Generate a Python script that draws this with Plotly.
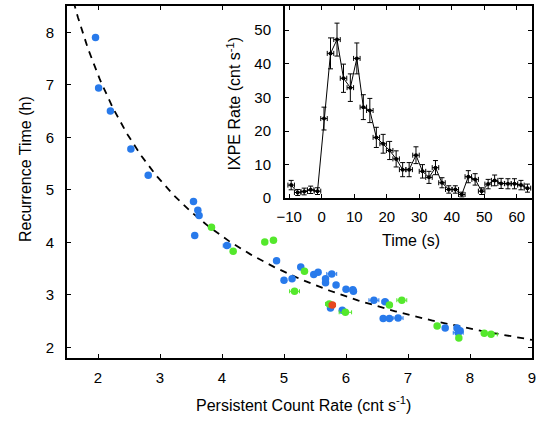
import plotly.graph_objects as go
import numpy as np

# ---- main scatter data ----
blue_x = [1.96, 2.01, 2.20, 2.53, 2.81, 3.54, 3.61, 3.63, 3.56, 4.08, 4.88, 5.00, 5.13, 5.27,
          5.48, 5.55, 5.77, 5.67, 5.67, 5.84, 6.00, 6.12, 6.11, 5.75, 5.76, 5.94, 6.45, 6.63,
          6.60, 6.70, 6.84, 7.60, 7.79, 7.84, 7.81]
blue_y = [7.90, 6.94, 6.50, 5.78, 5.28, 4.78, 4.61, 4.51, 4.13, 3.94, 3.65, 3.28, 3.31, 3.53,
          3.39, 3.43, 3.40, 3.31, 3.23, 3.19, 3.11, 3.07, 3.10, 2.75, 2.80, 2.71, 2.90, 2.87,
          2.55, 2.55, 2.56, 2.37, 2.37, 2.32, 2.28]
blue_xerr = [0, 0, 0, 0, 0, 0, 0, 0, 0, 0.06, 0, 0.04, 0, 0,
             0, 0, 0.08, 0, 0, 0, 0, 0, 0, 0, 0, 0, 0.08, 0.05,
             0, 0, 0.08, 0, 0, 0, 0.08]

green_x = [3.83, 4.18, 4.69, 4.83, 5.17, 5.33, 5.73, 5.99, 6.70, 6.90, 7.47, 7.82, 8.23, 8.34]
green_y = [4.29, 3.83, 4.01, 4.04, 3.07, 3.45, 2.83, 2.67, 2.81, 2.90, 2.41, 2.18, 2.27, 2.25]
green_xerr = [0, 0, 0, 0, 0.08, 0, 0.06, 0.10, 0, 0.08, 0, 0, 0, 0.10]

red_x = [5.78]
red_y = [2.81]
red_xerr = [0.05]

# power-law fit  T = A * R^-k
fit_A = 12.55
fit_k = 0.804

# ---- inset light curve ----
lc_t = [-9.4, -7.4, -5.4, -3.4, -1.3, 0.7, 2.7, 4.7, 6.7, 8.8, 10.8, 12.8, 14.8, 16.8, 18.9,
        20.9, 22.9, 24.9, 26.9, 29.0, 31.0, 33.0, 35.0, 37.0, 39.1, 41.1, 43.1, 45.1, 47.2,
        49.2, 51.2, 53.2, 55.2, 57.3, 59.3, 61.3, 63.3]
lc_rate = [3.9, 1.7, 2.0, 2.5, 2.1, 23.7, 43.1, 47.2, 35.7, 32.9, 41.6, 27.1, 26.1, 18.1, 16.2,
           14.2, 11.7, 8.5, 8.5, 12.8, 8.0, 6.2, 9.1, 4.6, 2.6, 2.6, 1.1, 6.4, 5.6,
           2.1, 4.2, 5.3, 4.4, 4.3, 4.3, 3.9, 3.0]
lc_err = [1.4, 0.9, 1.0, 1.1, 1.0, 3.4, 4.6, 4.9, 4.2, 4.1, 4.6, 3.7, 3.6, 3.0, 2.8,
          2.7, 2.4, 2.1, 2.1, 2.5, 2.0, 1.8, 2.1, 1.5, 1.1, 1.1, 0.7, 1.8, 1.7,
          1.0, 1.4, 1.6, 1.5, 1.5, 1.5, 1.4, 1.2]
lc_terr = [1.0] * len(lc_t)

BLUE = "rgb(40,122,235)"
GREEN = "rgb(84,232,44)"
RED = "rgb(232,72,30)"
FONT = "Liberation Sans, Arial, sans-serif"

W, H = 549, 421
ML, MR, MT, MB = 67, 17, 4, 63
PW, PH = W - ML - MR, H - MT - MB


def px(x):
    return (x - ML) / PW


def py(y):
    return (H - MB - y) / PH


fig = go.Figure()

xf = np.linspace(1.5, 9.0, 300)
fig.add_trace(go.Scatter(x=xf, y=fit_A * xf ** (-fit_k), mode="lines",
                         line=dict(color="black", width=1.8, dash="7px,6px"),
                         hoverinfo="skip", showlegend=False))

for xs, ys, xe, col in [(blue_x, blue_y, blue_xerr, BLUE),
                        (green_x, green_y, green_xerr, GREEN),
                        (red_x, red_y, red_xerr, RED)]:
    fig.add_trace(go.Scatter(x=xs, y=ys, mode="markers",
                             marker=dict(color=col, size=7.5, line=dict(width=0)),
                             error_x=dict(type="data", array=xe, color=col, thickness=1, width=2),
                             showlegend=False))

fig.add_trace(go.Scatter(x=lc_t, y=lc_rate, mode="lines+markers", xaxis="x2", yaxis="y2",
                         line=dict(color="black", width=1),
                         marker=dict(color="black", size=4, symbol="circle"),
                         error_y=dict(type="data", array=lc_err, color="black", thickness=1, width=2.5),
                         error_x=dict(type="data", array=lc_terr, color="black", thickness=1, width=2.5),
                         showlegend=False))

axis_common = dict(showline=True, linecolor="black", linewidth=2, mirror="ticks",
                   ticks="inside", ticklen=4, tickcolor="black", tickwidth=1,
                   showgrid=False, zeroline=False,
                   tickfont=dict(family=FONT, size=15, color="black"))

fig.update_layout(
    width=W, height=H,
    margin=dict(l=ML, r=MR, t=MT, b=MB),
    paper_bgcolor="white", plot_bgcolor="white",
    xaxis=dict(range=[1.5, 9], tickvals=[2, 3, 4, 5, 6, 7, 8, 9], domain=[0, 1],
               ticklabelstandoff=5, **axis_common),
    yaxis=dict(range=[1.8, 8.5], tickvals=[2, 3, 4, 5, 6, 7, 8], domain=[0, 1],
               ticklabelstandoff=8, **axis_common),
    xaxis2=dict(range=[-11.3, 64.7], tickvals=[-10, 0, 10, 20, 30, 40, 50, 60],
                domain=[px(285), 1], anchor="y2", ticklabelstandoff=4, **axis_common),
    yaxis2=dict(range=[0, 57.2], tickvals=[0, 10, 20, 30, 40, 50],
                domain=[py(197.3), 1], anchor="x2", ticklabelstandoff=9, **axis_common),
    showlegend=False,
)

# white background behind the inset
fig.add_shape(type="rect", xref="paper", yref="paper", x0=px(285), x1=1, y0=py(197.3), y1=1,
              fillcolor="white", line=dict(width=0), layer="below")

ann_font = dict(family=FONT, size=16, color="black")
fig.add_annotation(text="Persistent Count Rate (cnt s<sup>-1</sup>)", xref="paper", yref="paper",
                   x=px(303), y=py(404), showarrow=False, font=ann_font,
                   xanchor="center", yanchor="middle")
fig.add_annotation(text="Recurrence Time (h)", xref="paper", yref="paper",
                   x=px(25), y=py(168), showarrow=False, font=ann_font, textangle=-90,
                   xanchor="center", yanchor="middle")
fig.add_annotation(text="IXPE Rate (cnt s<sup>-1</sup>)", xref="paper", yref="paper",
                   x=px(234), y=py(102), showarrow=False, font=ann_font, textangle=-90,
                   xanchor="center", yanchor="middle")
fig.add_annotation(text="Time (s)", xref="paper", yref="paper",
                   x=px(411), y=py(240), showarrow=False, font=ann_font,
                   xanchor="center", yanchor="middle")

fig.write_html("out.html")
